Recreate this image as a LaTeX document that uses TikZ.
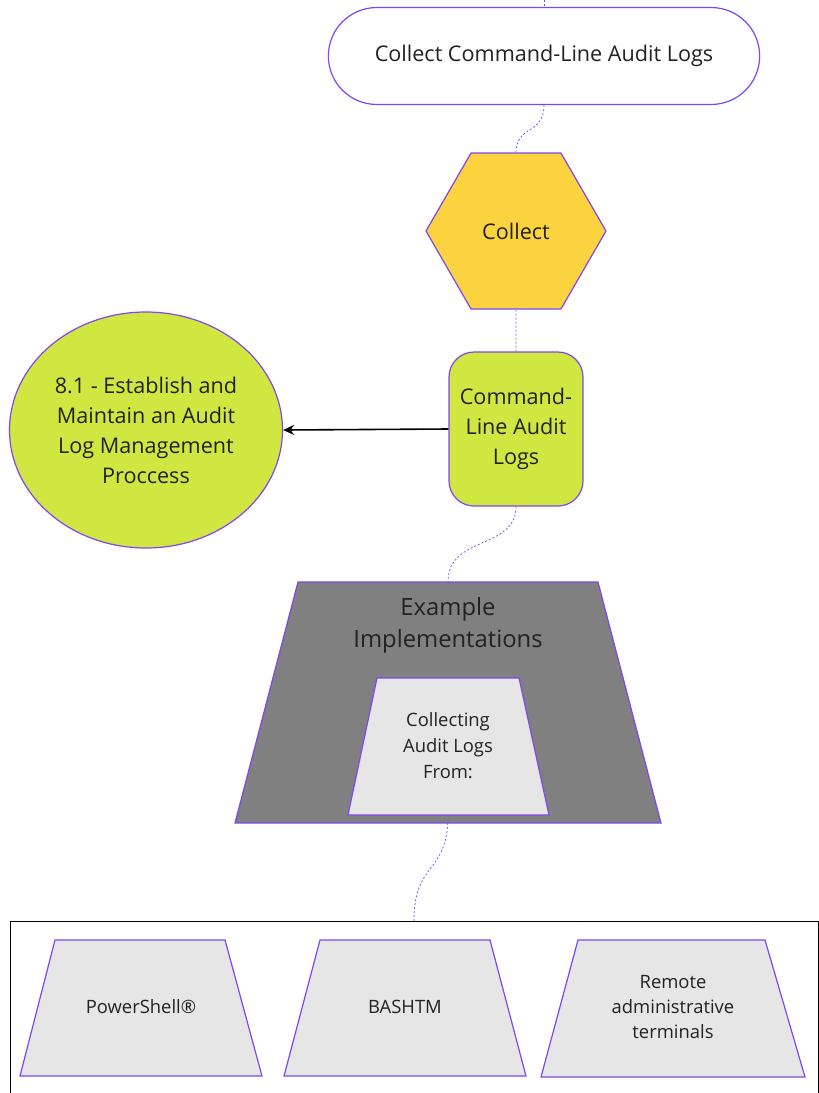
\documentclass[tikz,border=0pt]{standalone}
\usepackage{fontspec}
\setmainfont{Open Sans}
\usetikzlibrary{shapes.geometric,shapes.misc,arrows.meta}
\definecolor{edgepurple}{HTML}{8046F0}
\definecolor{hexyellow}{HTML}{FBD33F}
\definecolor{limegreen}{HTML}{D1E741}
\definecolor{slabgray}{HTML}{808080}
\definecolor{cardgray}{HTML}{E6E6E6}
\definecolor{inkgray}{HTML}{222222}
\tikzset{
	shapeline/.style={draw=edgepurple, line width=1.2pt},
	link/.style={draw=edgepurple, dash pattern=on 2pt off 2pt, line width=0.7pt},
	txt/.style={text=inkgray, align=center, font=\fontsize{21.6}{30}\selectfont},
	smalltxt/.style={text=inkgray, align=center, font=\fontsize{18.4}{25}\selectfont},
}
\begin{document}
\begin{tikzpicture}[x=1pt,y=-1pt]
	\useasboundingbox (0,0) rectangle (819,1093);
	\node[shapeline, rounded rectangle, fill=white, minimum width=438pt, minimum height=97pt, txt] (goal) at (544,56) {Collect Command-Line Audit Logs};
	\node[shapeline, regular polygon, regular polygon sides=6, minimum size=180pt, inner sep=0pt, fill=hexyellow, txt] (collect) at (516,231) {Collect};
	\node[shapeline, rectangle, rounded corners=25pt, minimum width=134pt, minimum height=154pt, fill=limegreen, txt] (logs) at (516,429) {Command-\\Line Audit\\Logs};
	\node[shapeline, ellipse, minimum width=273pt, minimum height=236pt, inner sep=0pt, fill=limegreen, txt] (safeguard) at (146,430) {8.1 - Establish and\\Maintain an Audit\\Log Management\\Proccess};
	% implementations
	\draw[shapeline, fill=slabgray] (298,582) -- (598,582) -- (661,823) -- (235,823) -- cycle;
	\coordinate (examples top) at (448,582);
	\node[txt, font=\fontsize{23.8}{32}\selectfont] (examples) at (448,625) {Example\\Implementations};
	\draw[shapeline, fill=cardgray] (377,678) -- (519,678) -- (549,815) -- (348,815) -- cycle;
	\coordinate (collecting bottom) at (448,815);
	\node[txt, font=\fontsize{18.4}{26}\selectfont] (collecting) at (448,746) {Collecting\\Audit Logs\\From:};
	% sources
	\node[draw=black, line width=1pt, minimum width=808pt, minimum height=180pt, anchor=north] (sources) at (414,921) {};
	\draw[shapeline, fill=cardgray] (55,940) -- (225,940) -- (262,1076) -- (20,1076) -- cycle;
	\draw[shapeline, fill=cardgray] (320,940) -- (490,940) -- (526,1076) -- (284,1076) -- cycle;
	\draw[shapeline, fill=cardgray] (578,940) -- (765,940) -- (805,1077) -- (541,1077) -- cycle;
	\node[smalltxt] (powershell) at (141,1007) {PowerShell®};
	\node[smalltxt] (bash) at (405,1007) {BASHTM};
	\node[smalltxt] (remote) at (673,1007) {Remote\\administrative\\terminals};
	% connectors
	\coordinate (feed) at (544,0);
	\draw[link] (feed) -- (goal.north);
	\draw[link] (goal.south) .. controls (544,135) and (516,125) .. (collect.north);
	\draw[link] (collect.south) -- (logs.north);
	\draw[-{Stealth[length=11pt,width=10pt]}, line width=1.6pt, black] (logs.west) -- (safeguard.east);
	\draw[link] (logs.south) .. controls (516,550) and (448,535) .. (examples top);
	\draw[link] (collecting bottom) .. controls (448,875) and (414,860) .. (sources.north);
\end{tikzpicture}
\end{document}
